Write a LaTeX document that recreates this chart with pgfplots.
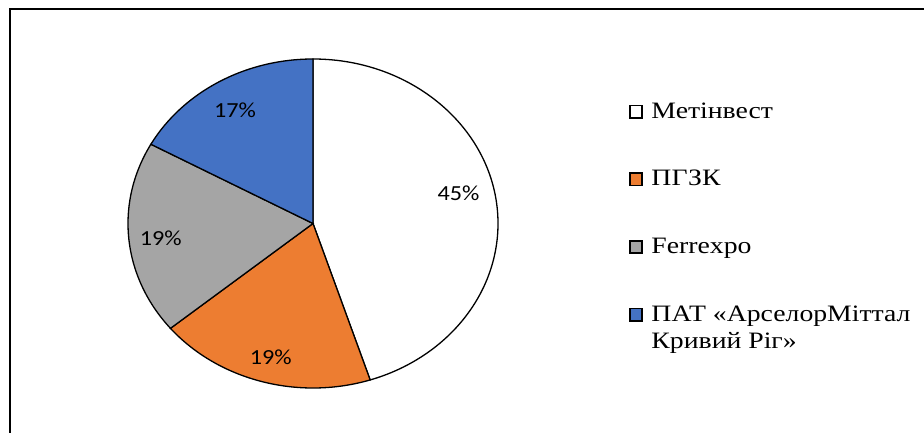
\documentclass[border=0pt]{standalone}
\usepackage{graphicx}
\usepackage{pgfplots}
\pgfplotsset{compat=1.18}
\usepackage{fontspec}
\setmainfont{Liberation Serif}
\newfontfamily\lblfont{Carlito}
\definecolor{cBlue}{HTML}{4472C4}
\definecolor{cOrange}{HTML}{ED7D31}
\definecolor{cGray}{HTML}{A5A5A5}
\pgfplotsset{sq/.style={legend image code/.code={\draw[##1, line width=1.6bp] (0.8bp,0.3bp) rectangle (13.2bp,12.7bp);}}}
% data (percent shares)
\def\vA{45}\def\vB{19}\def\vC{19}\def\vD{17}
\pgfmathsetmacro{\aA}{90}
\pgfmathsetmacro{\aB}{\aA-3.6*\vA}
\pgfmathsetmacro{\aC}{\aB-3.6*\vB}
\pgfmathsetmacro{\aD}{\aC-3.6*\vC}
\pgfmathsetmacro{\aE}{\aD-3.6*\vD}
\newcommand{\st}[1]{\scalebox{1.125}[1]{#1}}
\newcommand{\legtxt}[1]{{\fontsize{23.5bp}{27.5bp}\selectfont\scalebox{1.18}[1]{#1}}}
\newcommand{\pct}[1]{\lblfont\fontsize{21.5bp}{25bp}\selectfont\st{#1}}
\begin{document}
\begin{tikzpicture}
\useasboundingbox (0,0) rectangle (924bp,433bp);
\draw[line width=2bp] (10bp,-20bp) -- (10bp,424bp) -- (950bp,424bp);
\begin{axis}[
  at={(313bp,209.5bp)}, anchor=center,
  scale only axis, width=370bp, height=329bp,
  hide axis, clip=false,
  xmin=-1, xmax=1, ymin=-1, ymax=1,
  legend style={
    at={(1.354,0.873)}, anchor=north west,
    draw=none, fill=none, inner sep=0pt, outer sep=0pt,
    cells={anchor=base west, inner sep=0pt},
    row sep={67.6bp,between origins},
    column sep=6.5bp,
  },
]
\filldraw[fill=white, draw=black, line width=1.3bp] (axis cs:0,0) -- (axis cs:{cos(\aA)},{sin(\aA)}) arc[start angle=\aA, end angle=\aB, x radius=185bp, y radius=164.5bp] -- cycle;
\filldraw[fill=cOrange, draw=black, line width=1.3bp] (axis cs:0,0) -- (axis cs:{cos(\aB)},{sin(\aB)}) arc[start angle=\aB, end angle=\aC, x radius=185bp, y radius=164.5bp] -- cycle;
\filldraw[fill=cGray, draw=black, line width=1.3bp] (axis cs:0,0) -- (axis cs:{cos(\aC)},{sin(\aC)}) arc[start angle=\aC, end angle=\aD, x radius=185bp, y radius=164.5bp] -- cycle;
\filldraw[fill=cBlue, draw=black, line width=1.3bp] (axis cs:0,0) -- (axis cs:{cos(\aD)},{sin(\aD)}) arc[start angle=\aD, end angle=\aE, x radius=185bp, y radius=164.5bp] -- cycle;
\node at (axis cs:0.786,0.185) {\pct{45\%}};
\node at (axis cs:-0.228,-0.812) {\pct{19\%}};
\node at (axis cs:-0.823,-0.09) {\pct{19\%}};
\node at (axis cs:-0.422,0.690) {\pct{17\%}};
\addlegendimage{sq, fill=white, draw=black}
\addlegendentry{\legtxt{Метінвест}}
\addlegendimage{sq, fill=cOrange, draw=black}
\addlegendentry{\legtxt{ПГЗК}}
\addlegendimage{sq, fill=cGray, draw=black}
\addlegendentry{\legtxt{Ferrexpo}}
\addlegendimage{sq, fill=cBlue, draw=black}
\addlegendentry{\legtxt{\begin{tabular}[t]{@{}l@{}}ПАТ «АрселорМіттал\\Кривий Ріг»\end{tabular}}}
\end{axis}
\end{tikzpicture}
\end{document}
